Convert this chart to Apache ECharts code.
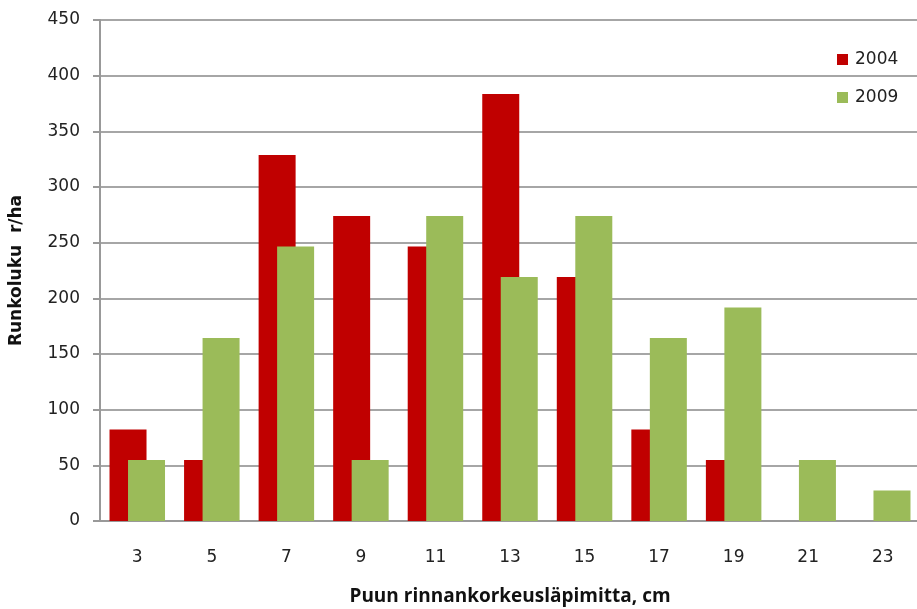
<!DOCTYPE html>
<html>
<head>
<meta charset="utf-8">
<script src="https://cdn.jsdelivr.net/npm/echarts@6/dist/echarts.min.js"></script>
<style>
  html, body { margin: 0; padding: 0; background: #fff; }
  #chart { width: 917px; height: 609px; }
</style>
</head>
<body>
<div id="chart"></div>
<script>
// Diameter classes (cm) and stem counts per hectare
const categories = ['3', '5', '7', '9', '11', '13', '15', '17', '19', '21', '23'];
const values2004 = [82.2, 54.8, 328.8, 274, 246.6, 383.6, 219.2, 82.2, 54.8, 0, 0];
const values2009 = [54.8, 164.4, 246.6, 54.8, 274, 219.2, 274, 164.4, 191.8, 54.8, 27.4];
const yTicks = { min: 0, max: 450, interval: 50 };

const chart = echarts.init(document.getElementById('chart'), null, { renderer: 'canvas' });

const tickFont = { fontFamily: 'DejaVu Sans', fontSize: 17, color: '#222' };

chart.setOption({
  animation: false,
  backgroundColor: '#fff',
  grid: { left: 100, top: 20, width: 820, bottom: 88, outerBoundsMode: 'none', containLabel: false },
  legend: {
    orient: 'vertical',
    left: 832,
    top: 46,
    itemGap: 21,
    itemWidth: 11,
    itemHeight: 11,
    icon: 'rect',
    textStyle: { fontFamily: 'DejaVu Sans', fontSize: 17, color: '#222', padding: [0, 0, 0, 2] },
    data: ['2004', '2009']
  },
  xAxis: {
    type: 'category',
    data: categories,
    name: 'Puun rinnankorkeusläpimitta, cm',
    nameLocation: 'middle',
    nameGap: 66,
    nameTextStyle: { fontFamily: 'Open Sans', fontWeight: 'bold', fontSize: 19, color: '#111' },
    axisLine: { lineStyle: { color: '#999', width: 2 } },
    axisTick: { show: false },
    axisLabel: Object.assign({ margin: 28 }, tickFont),
    splitLine: { show: false }
  },
  yAxis: {
    type: 'value',
    min: yTicks.min,
    max: yTicks.max,
    interval: yTicks.interval,
    name: 'Runkoluku  r/ha',
    nameLocation: 'middle',
    nameGap: 75,
    nameTextStyle: { fontFamily: 'DejaVu Sans', fontWeight: 'bold', fontSize: 17, color: '#111' },
    axisLine: { show: true, lineStyle: { color: '#999', width: 2 } },
    axisTick: { show: true, length: 7, lineStyle: { color: '#999', width: 2 } },
    axisLabel: Object.assign({ margin: 20 }, tickFont),
    splitLine: { show: true, lineStyle: { color: '#a6a6a6', width: 2 } }
  },
  series: [
    {
      name: '2004',
      type: 'bar',
      data: values2004,
      barWidth: 37,
      barGap: '-50%',
      itemStyle: { color: '#C00000', borderWidth: 0 }
    },
    {
      name: '2009',
      type: 'bar',
      data: values2009,
      barWidth: 37,
      barGap: '-50%',
      itemStyle: { color: '#9BBB59', borderWidth: 0 }
    }
  ]
});
</script>
</body>
</html>
